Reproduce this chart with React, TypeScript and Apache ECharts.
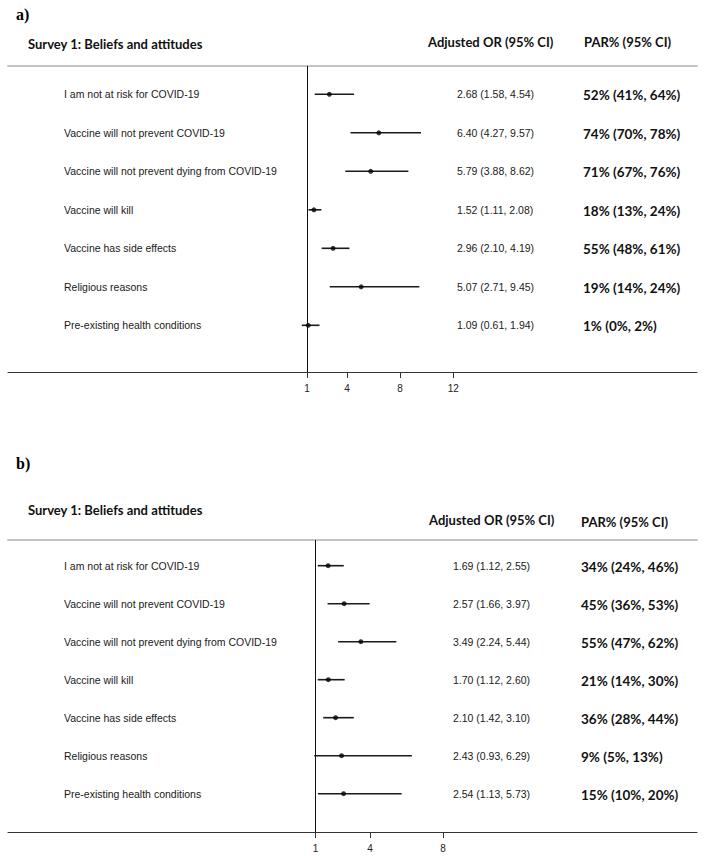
import React, { useEffect, useRef } from "react";
import * as echarts from "echarts";

// ---- Data ----
const labels = [
  "I am not at risk for COVID-19",
  "Vaccine will not prevent COVID-19",
  "Vaccine will not prevent dying from COVID-19",
  "Vaccine will kill",
  "Vaccine has side effects",
  "Religious reasons",
  "Pre-existing health conditions",
];

const orA = [2.68, 6.4, 5.79, 1.52, 2.96, 5.07, 1.09];
const loA = [1.58, 4.27, 3.88, 1.11, 2.1, 2.71, 0.61];
const hiA = [4.54, 9.57, 8.62, 2.08, 4.19, 9.45, 1.94];
const parA = [
  "52% (41%, 64%)",
  "74% (70%, 78%)",
  "71% (67%, 76%)",
  "18% (13%, 24%)",
  "55% (48%, 61%)",
  "19% (14%, 24%)",
  "1% (0%, 2%)",
];

const orB = [1.69, 2.57, 3.49, 1.7, 2.1, 2.43, 2.54];
const loB = [1.12, 1.66, 2.24, 1.12, 1.42, 0.93, 1.13];
const hiB = [2.55, 3.97, 5.44, 2.6, 3.1, 6.29, 5.73];
const parB = [
  "34% (24%, 46%)",
  "45% (36%, 53%)",
  "55% (47%, 62%)",
  "21% (14%, 30%)",
  "36% (28%, 44%)",
  "9% (5%, 13%)",
  "15% (10%, 20%)",
];

const ticksA = [1, 4, 8, 12];
const ticksB = [1, 4, 8];

const panelTitles = ["a)", "b)"];
const headerLeft = "Survey 1: Beliefs and attitudes";
const headerOR = "Adjusted OR (95% CI)";
const headerPAR = "PAR% (95% CI)";

const fmt = (v: number) => v.toFixed(2);

const LABEL_FONT = "'Liberation Sans', Arial, sans-serif";
const CAL_FONT = "Lato, 'Open Sans', sans-serif";

function buildPanel(
  gi: number,
  or: number[],
  lo: number[],
  hi: number[],
  par: string[],
  orX: number,
  parX: number
) {
  const ciData = or.map((v, i) => [i, lo[i], hi[i], v]);
  const pts = or.map((v, i) => [v, i]);
  const custom = {
    type: "custom",
    xAxisIndex: gi * 2,
    yAxisIndex: gi,
    data: ciData,
    z: 3,
    renderItem: (params: any, api: any) => {
      const i = api.value(0);
      const l = api.value(1);
      const h = api.value(2);
      const o = api.value(3);
      const p1 = api.coord([l, i]);
      const p2 = api.coord([h, i]);
      const y = p1[1];
      const idx = params.dataIndex;
      return {
        type: "group",
        children: [
          {
            type: "line",
            shape: { x1: p1[0], y1: y, x2: p2[0], y2: y },
            style: { stroke: "#1a1a1a", lineWidth: 1.6 },
          },
          {
            type: "text",
            style: {
              text: labels[idx],
              x: 64,
              y: y,
              align: "left",
              verticalAlign: "middle",
              fontSize: 10.5,
              fontFamily: LABEL_FONT,
              fill: "#1a1a1a",
            },
          },
          {
            type: "text",
            style: {
              text: `${fmt(o)} (${fmt(l)}, ${fmt(h)})`,
              x: orX,
              y: y,
              align: "left",
              verticalAlign: "middle",
              fontSize: 10.5,
              fontFamily: LABEL_FONT,
              fill: "#1a1a1a",
            },
          },
          {
            type: "text",
            style: {
              text: par[idx],
              x: parX,
              y: y + 1,
              align: "left",
              verticalAlign: "middle",
              fontSize: 13.5,
              fontWeight: "bold",
              fontFamily: CAL_FONT,
              fill: "#111",
            },
          },
        ],
      };
    },
  };
  const scatter = {
    type: "scatter",
    xAxisIndex: gi * 2,
    yAxisIndex: gi,
    data: pts,
    symbol: "circle",
    symbolSize: 5,
    itemStyle: { color: "#000" },
    z: 4,
    markLine: {
      silent: true,
      symbol: ["none", "none"],
      label: { show: false },
      lineStyle: { color: "#111", width: 1, type: "solid" },
      data: [{ xAxis: 1 }],
    },
  };
  return [custom, scatter];
}

export default function App() {
  const ref = useRef<HTMLDivElement>(null);
  useEffect(() => {
    if (!ref.current) return;
    const chart = echarts.init(ref.current, null, { renderer: "svg" });
    const xAxisBase = (min: number, max: number, ticks: number[], gi: number) => [
      {
        type: "value",
        gridIndex: gi,
        position: "bottom",
        min,
        max,
        splitLine: { show: false },
        axisLine: {
          show: true,
          onZero: false,
          lineStyle: { color: "#333", width: 1.2 },
        },
        axisTick: {
          show: true,
          length: 6,
          customValues: ticks,
          lineStyle: { color: "#333", width: 1 },
        },
        axisLabel: {
          show: true,
          customValues: ticks,
          margin: 11,
          fontSize: 10,
          fontFamily: LABEL_FONT,
          color: "#222",
        },
      },
      {
        type: "value",
        gridIndex: gi,
        position: "top",
        min,
        max,
        splitLine: { show: false },
        axisLine: {
          show: true,
          onZero: false,
          lineStyle: { color: "#c4c4c4", width: 2 },
        },
        axisTick: { show: false },
        axisLabel: { show: false },
      },
    ];
    const yAxisBase = (min: number, max: number, gi: number) => ({
      type: "value",
      gridIndex: gi,
      min,
      max,
      inverse: true,
      show: false,
      splitLine: { show: false },
    });

    const headerText = (text: string, x: number, y: number, size: number) => ({
      type: "text",
      x,
      y,
      style: {
        text,
        align: "left",
        verticalAlign: "middle",
        fontSize: size,
        fontWeight: "bold",
        fontFamily: CAL_FONT,
        fill: "#111",
      },
    });
    const panelLabel = (text: string, x: number, y: number) => ({
      type: "text",
      x,
      y,
      style: {
        text,
        align: "left",
        verticalAlign: "middle",
        fontSize: 16,
        fontWeight: "bold",
        fontFamily: "'Liberation Serif', 'Times New Roman', serif",
        fill: "#000",
      },
    });

    chart.setOption({
      animation: false,
      backgroundColor: "#fff",
      grid: [
        { left: 8, right: 8, top: 66, height: 306 },
        { left: 8, right: 8, top: 540, height: 292 },
      ],
      xAxis: [
        ...xAxisBase(-21.48, 30.32, ticksA, 0),
        ...xAxisBase(-15.9, 21.96, ticksB, 1),
      ],
      yAxis: [yAxisBase(-0.735, 7.213, 0), yAxisBase(-0.676, 7.008, 1)],
      series: [
        ...buildPanel(0, orA, loA, hiA, parA, 457, 583),
        ...buildPanel(1, orB, loB, hiB, parB, 453, 581),
      ],
      graphic: [
        panelLabel(panelTitles[0], 16, 14),
        headerText(headerLeft, 28, 44, 13),
        headerText(headerOR, 428, 42, 13),
        headerText(headerPAR, 584, 42, 13),
        panelLabel(panelTitles[1], 16, 463),
        headerText(headerLeft, 28, 510, 13),
        headerText(headerOR, 429, 520, 13),
        headerText(headerPAR, 581, 522, 13),
      ],
    });
    return () => chart.dispose();
  }, []);
  return (
    <div
      ref={ref}
      style={{ position: "fixed", left: 0, top: 0, width: 705, height: 856 }}
    />
  );
}
